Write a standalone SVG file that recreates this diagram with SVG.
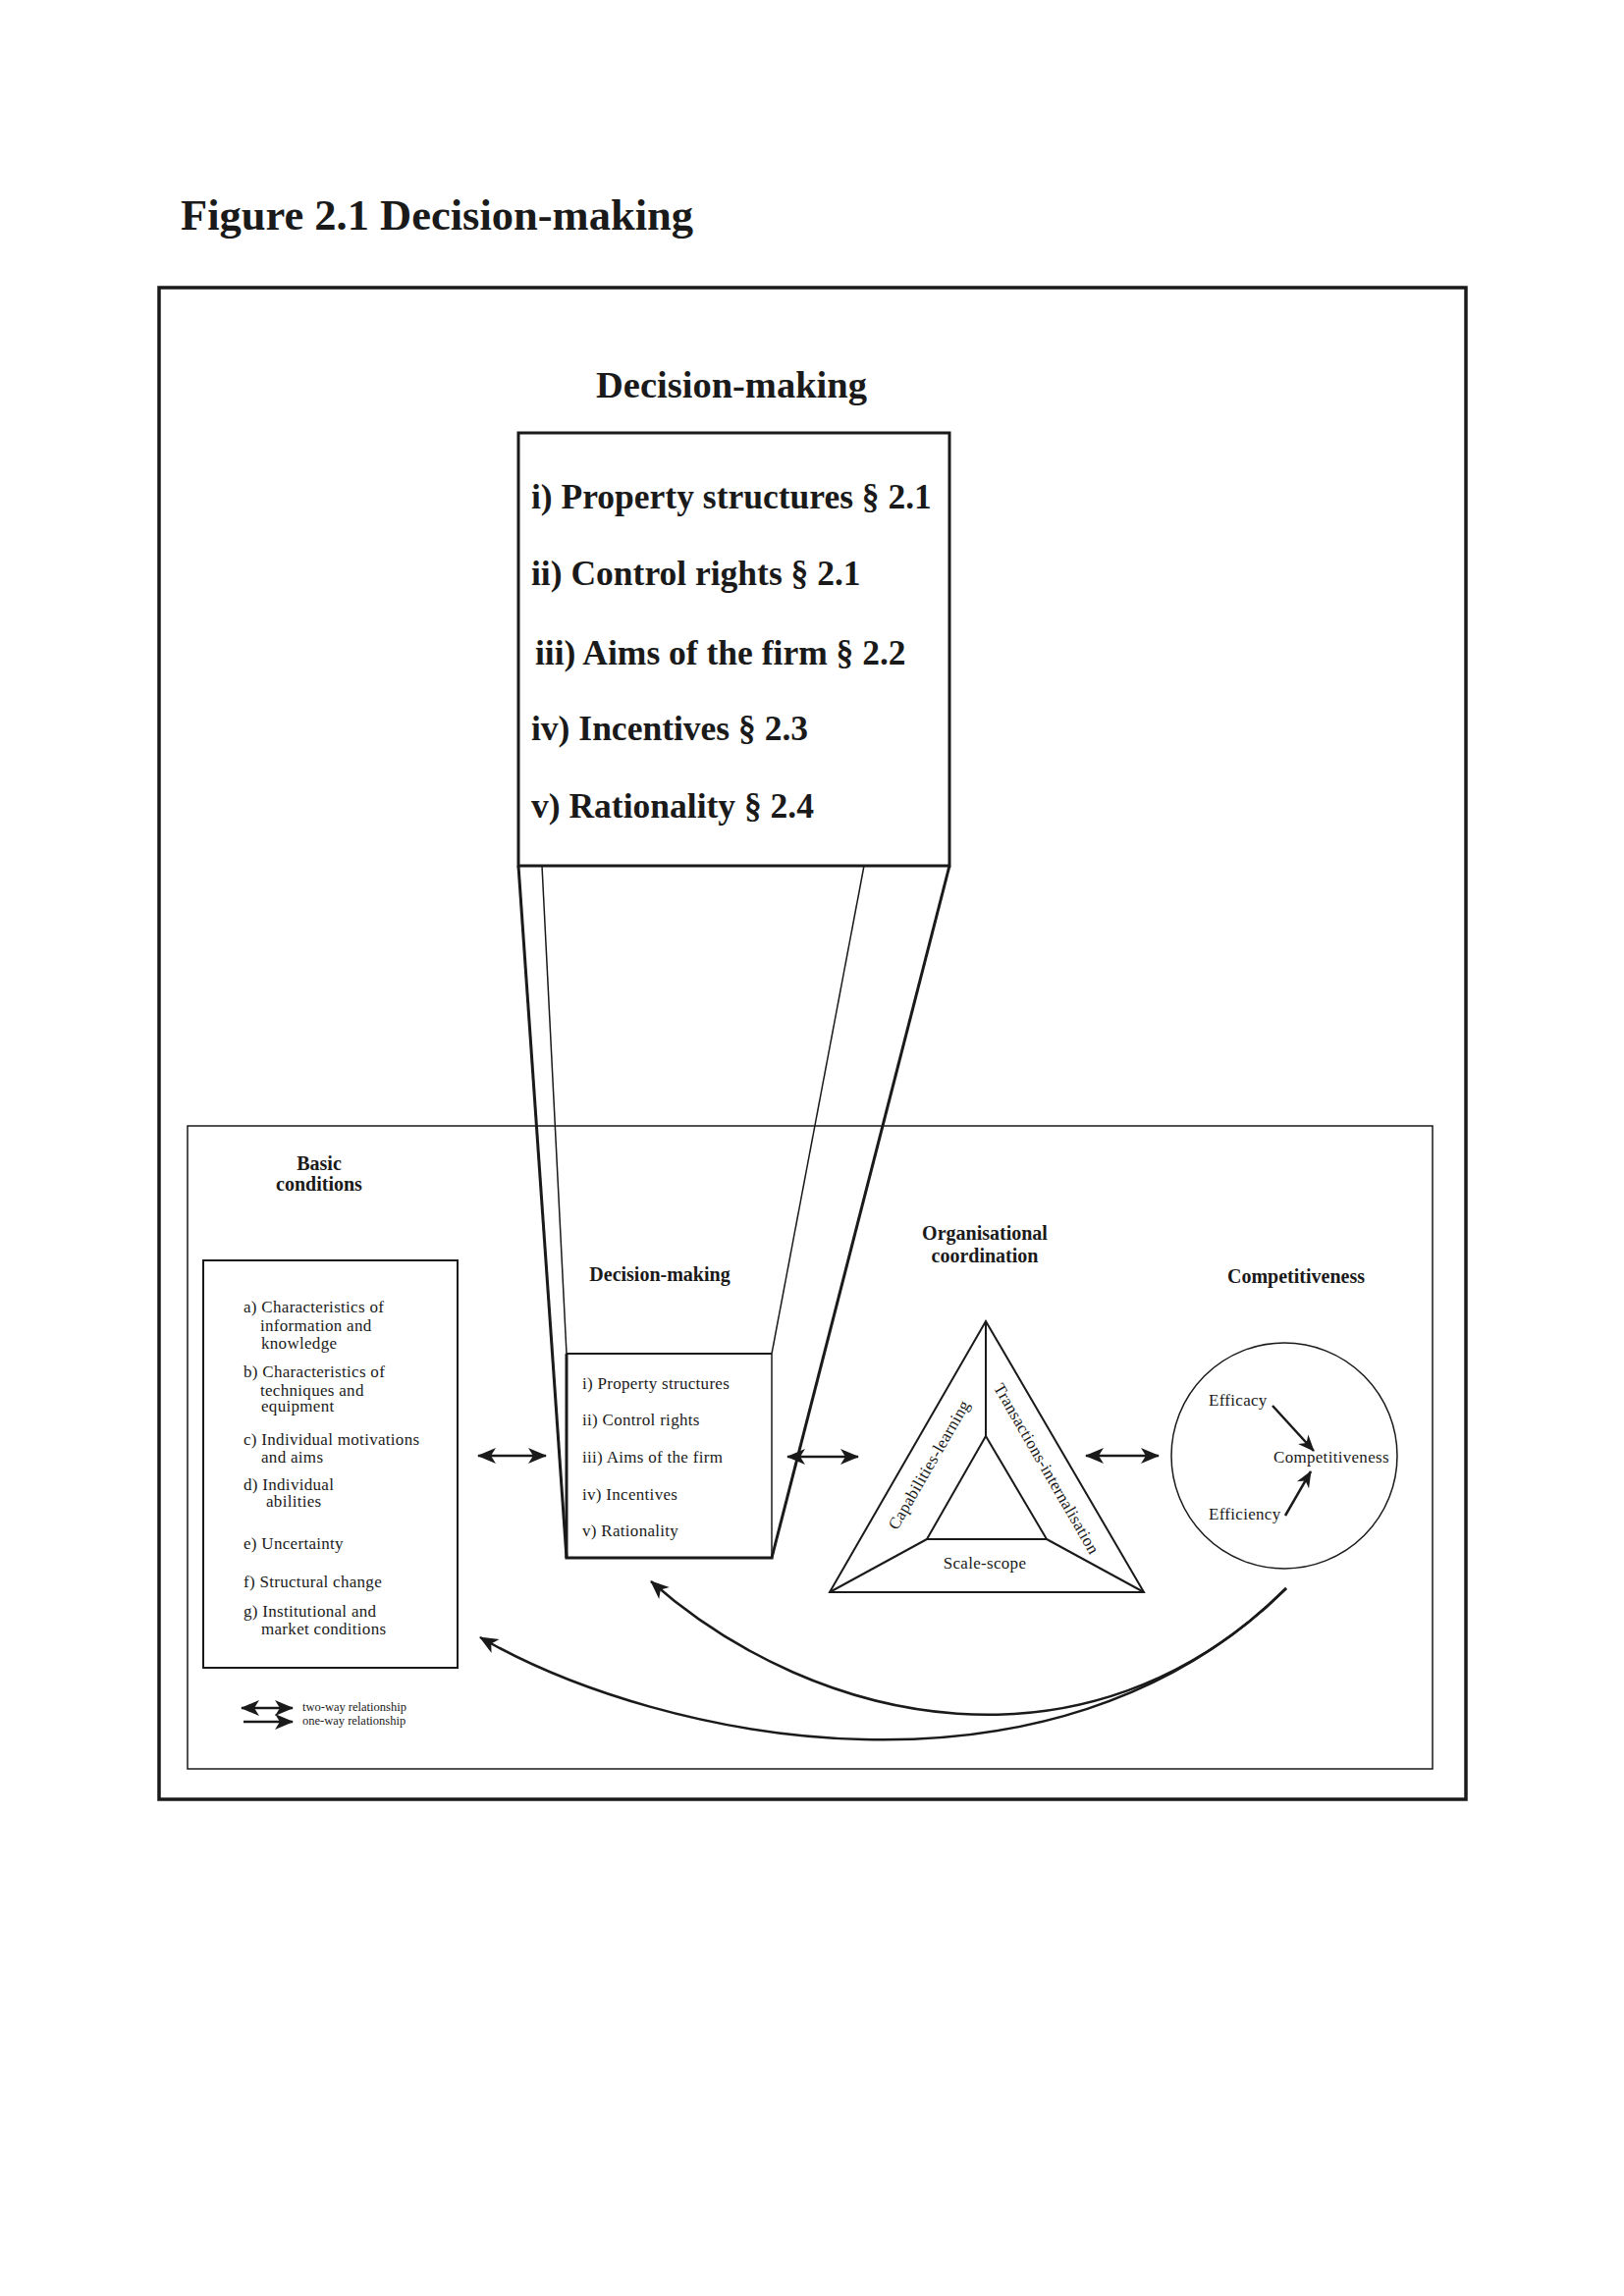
<svg xmlns="http://www.w3.org/2000/svg" width="1654" height="2339" viewBox="0 0 1654 2339">
<style>
text { font-family: "Liberation Serif", "Times New Roman", serif; fill: #1a1a1a; }
.title { font-size: 44.5px; font-weight: bold; }
.big { font-size: 35.5px; font-weight: bold; }
.bighead { font-size: 38.5px; font-weight: bold; }
.head { font-size: 20px; font-weight: bold; }
.item { font-size: 17px; letter-spacing: 0.3px; }
.legend { font-size: 12.5px; }
.mid-anchor { text-anchor: middle; }
.thick { stroke: #1a1a1a; stroke-width: 3; fill: none; }
.mid { stroke: #1a1a1a; stroke-width: 2; fill: none; }
.thin { stroke: #1a1a1a; stroke-width: 1.5; fill: none; }
.conn { stroke: #1a1a1a; stroke-width: 2.5; fill: none; }
</style>
<defs>
<marker id="ah" viewBox="-20 -10 22 20" refX="0" refY="0" markerWidth="22" markerHeight="20" markerUnits="userSpaceOnUse" orient="auto-start-reverse">
<path d="M1,0 L-18,-8 L-13,0 L-18,8 Z" fill="#1a1a1a"/>
</marker>
<marker id="ahs" viewBox="-20 -10 22 20" refX="0" refY="0" markerWidth="22" markerHeight="20" markerUnits="userSpaceOnUse" orient="auto-start-reverse">
<path d="M1,0 L-16,-7 L-11,0 L-16,7 Z" fill="#1a1a1a"/>
</marker>
</defs>
<rect x="0" y="0" width="1654" height="2339" fill="#ffffff"/>

<text class="title" x="184" y="234">Figure 2.1 Decision-making</text>

<rect id="outer-frame" x="162" y="293" width="1331" height="1540" fill="none" stroke="#1a1a1a" stroke-width="3.5"/>

<g id="decision-making-detail">
<text class="bighead mid-anchor" x="745" y="405">Decision-making</text>
<rect class="thick" x="528" y="441" width="439" height="441"/>
<text class="big" x="541" y="518">i) Property structures § 2.1</text>
<text class="big" x="541" y="596">ii) Control rights § 2.1</text>
<text class="big" x="545" y="677">iii) Aims of the firm § 2.2</text>
<text class="big" x="541" y="754">iv) Incentives § 2.3</text>
<text class="big" x="541" y="833">v) Rationality § 2.4</text>
</g>

<g id="projection">
<line class="thick" x1="528" y1="882" x2="577" y2="1587"/>
<line class="thin" x1="552" y1="882" x2="577" y2="1379"/>
<line class="thin" x1="880" y1="882" x2="786" y2="1379"/>
<line class="thick" x1="967" y1="882" x2="786" y2="1587"/>
</g>

<rect id="inner-frame" x="191" y="1147" width="1268" height="655" fill="none" stroke="#1a1a1a" stroke-width="1.5"/>

<g id="basic-conditions">
<text class="head mid-anchor" x="325" y="1192">Basic</text>
<text class="head mid-anchor" x="325" y="1213">conditions</text>
<rect class="mid" x="207" y="1284" width="259" height="415"/>
<text class="item" x="248" y="1337">a) Characteristics of</text>
<text class="item" x="265" y="1356">information and</text>
<text class="item" x="266" y="1374">knowledge</text>
<text class="item" x="248" y="1403">b) Characteristics of</text>
<text class="item" x="265" y="1422">techniques and</text>
<text class="item" x="266" y="1438">equipment</text>
<text class="item" x="248" y="1472">c) Individual motivations</text>
<text class="item" x="266" y="1490">and aims</text>
<text class="item" x="248" y="1518">d) Individual</text>
<text class="item" x="271" y="1535">abilities</text>
<text class="item" x="248" y="1578">e) Uncertainty</text>
<text class="item" x="248" y="1617">f) Structural change</text>
<text class="item" x="248" y="1647">g) Institutional and</text>
<text class="item" x="266" y="1665">market conditions</text>
</g>

<g id="decision-making">
<text class="head mid-anchor" x="672" y="1305">Decision-making</text>
<line class="mid" x1="577" y1="1379" x2="786" y2="1379"/>
<line class="thin" x1="786" y1="1379" x2="786" y2="1587"/>
<line class="thick" x1="577" y1="1379" x2="577" y2="1587"/>
<line class="thick" x1="575.5" y1="1587" x2="787.5" y2="1587"/>
<text class="item" x="593" y="1415">i) Property structures</text>
<text class="item" x="593" y="1452">ii) Control rights</text>
<text class="item" x="593" y="1490">iii) Aims of the firm</text>
<text class="item" x="593" y="1528">iv) Incentives</text>
<text class="item" x="593" y="1565">v) Rationality</text>
</g>

<g id="organisational-coordination">
<text class="head mid-anchor" x="1003" y="1263">Organisational</text>
<text class="head mid-anchor" x="1003" y="1286">coordination</text>
<polygon class="mid" points="1004,1346 845,1622 1165,1622"/>
<polygon class="mid" points="1004,1463 944,1568 1066,1568"/>
<line class="mid" x1="1004" y1="1346" x2="1004" y2="1463"/>
<line class="mid" x1="944" y1="1568" x2="845" y2="1622"/>
<line class="mid" x1="1066" y1="1568" x2="1165" y2="1622"/>
<text class="item mid-anchor" transform="translate(951,1495) rotate(-60)">Capabilities-learning</text>
<text class="item mid-anchor" transform="translate(1061,1499) rotate(60)">Transactions-internalisation</text>
<text class="item mid-anchor" x="1003" y="1598">Scale-scope</text>
</g>

<g id="competitiveness">
<text class="head mid-anchor" x="1320" y="1307">Competitiveness</text>
<circle class="thin" cx="1308" cy="1483" r="115"/>
<text class="item" x="1231" y="1432">Efficacy</text>
<text class="item" x="1297" y="1490">Competitiveness</text>
<text class="item" x="1231" y="1548">Efficiency</text>
</g>

<g id="connectors">
<line class="conn" x1="487" y1="1483" x2="556" y2="1483" marker-start="url(#ah)" marker-end="url(#ah)"/>
<line class="conn" x1="802" y1="1484" x2="874" y2="1484" marker-start="url(#ah)" marker-end="url(#ah)"/>
<line class="conn" x1="1106" y1="1483" x2="1180" y2="1483" marker-start="url(#ah)" marker-end="url(#ah)"/>
<line class="conn" x1="1296" y1="1432" x2="1338" y2="1478" marker-end="url(#ahs)"/>
<line class="conn" x1="1309" y1="1544" x2="1335" y2="1499" marker-end="url(#ahs)"/>
<path class="conn" d="M1310,1618 C1109,1818 833,1761 663,1611" marker-end="url(#ah)"/>
<path class="conn" d="M1310,1618 C1072,1855 674,1775 489,1668" marker-end="url(#ah)"/>
</g>

<g id="legend">
<line class="conn" x1="246" y1="1740" x2="298" y2="1740" marker-start="url(#ah)" marker-end="url(#ah)"/>
<line class="conn" x1="248" y1="1754" x2="298" y2="1754" marker-end="url(#ah)"/>
<text class="legend" x="308" y="1743">two-way relationship</text>
<text class="legend" x="308" y="1757">one-way relationship</text>
</g>
</svg>
